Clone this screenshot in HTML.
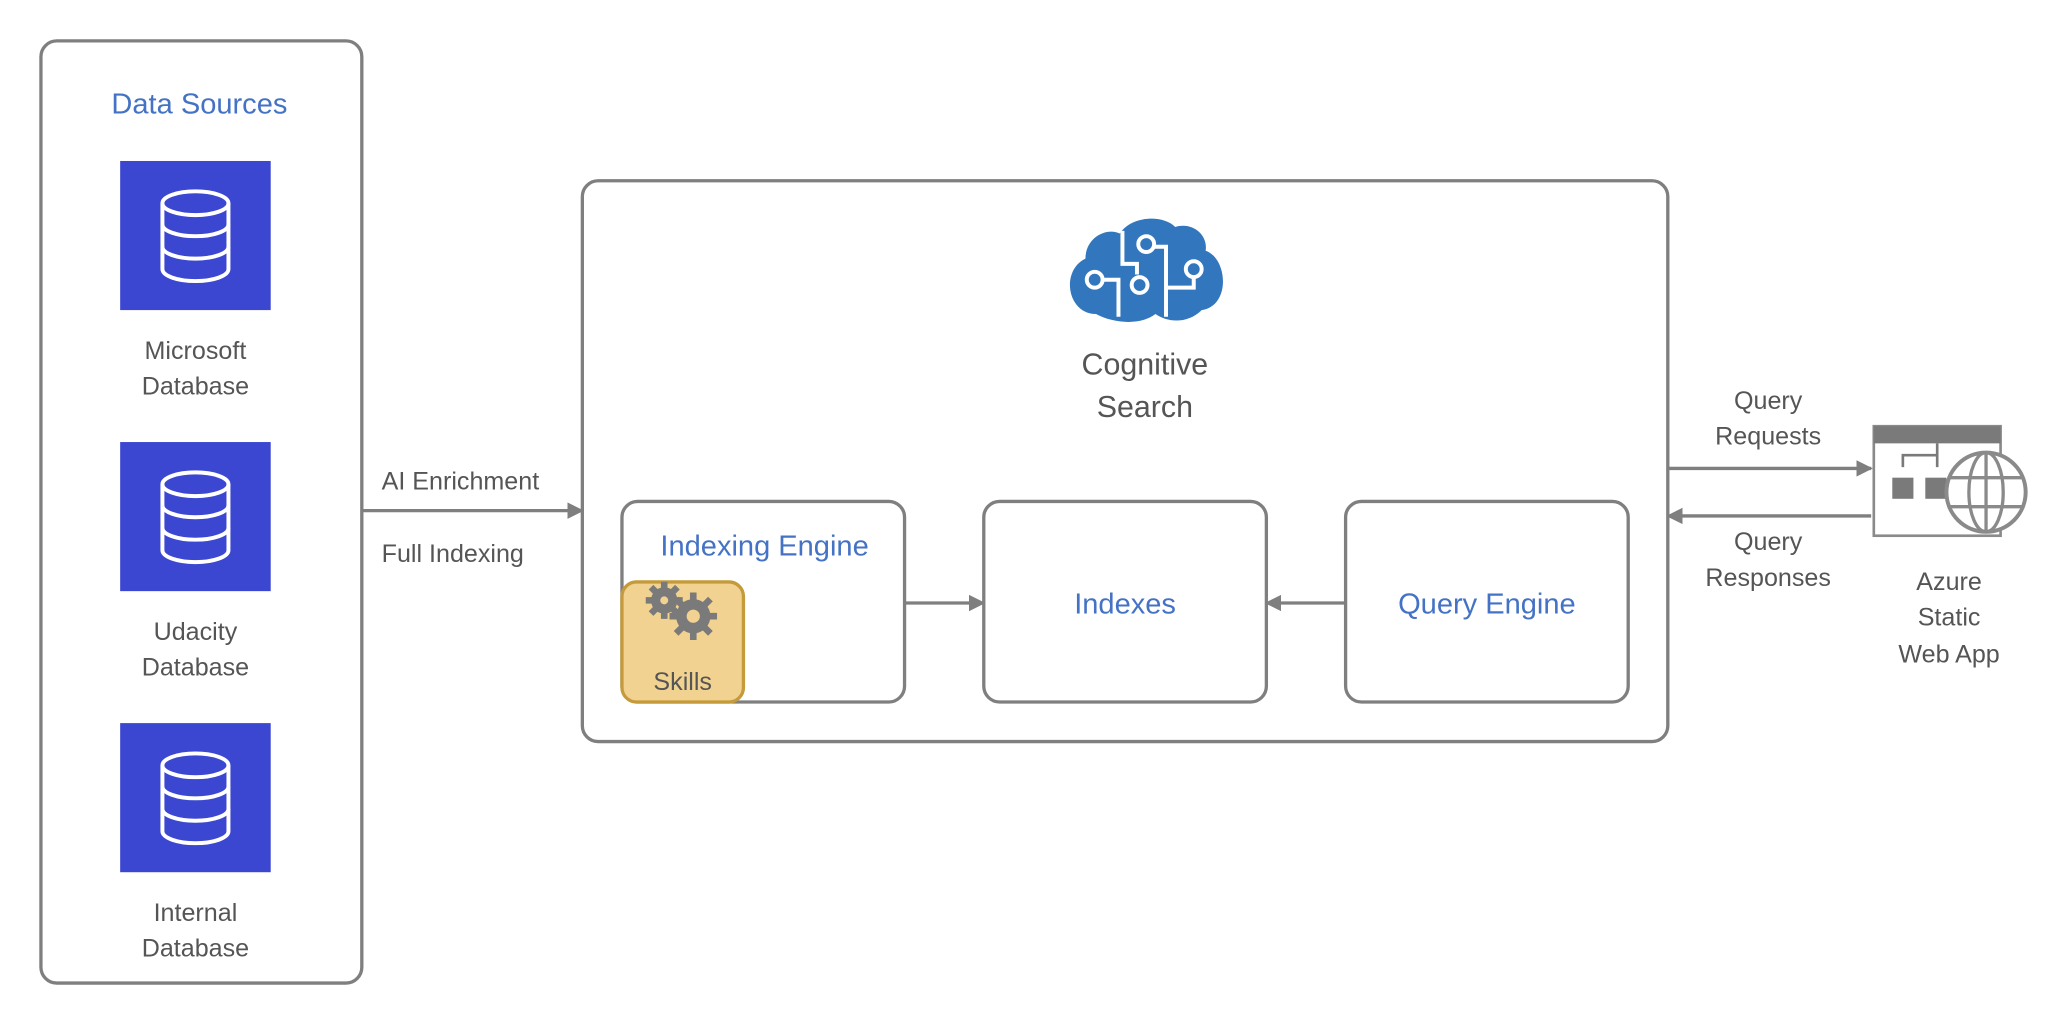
<!DOCTYPE html>
<html><head><meta charset="utf-8"><style>
html,body{margin:0;padding:0;background:#fff;width:2060px;height:1020px;overflow:hidden}
svg{display:block}
text{font-family:"Liberation Sans","DejaVu Sans",sans-serif}
</style></head><body>
<svg width="2060" height="1020" viewBox="0 0 1560 773" preserveAspectRatio="none" xmlns="http://www.w3.org/2000/svg">
<defs>
<marker id="ah" viewBox="0 0 10 10" refX="9" refY="5" markerWidth="5" markerHeight="5" orient="auto" markerUnits="strokeWidth"><path d="M0,0 L10,5 L0,10 z" fill="#7f7f7f"/></marker>
<g id="db"><rect width="114" height="113" fill="#3c47d1"/>
<g fill="none" stroke="#fff" stroke-width="3">
<ellipse cx="57" cy="32" rx="25" ry="9"/>
<path d="M32,32 V82 A25,9 0 0 0 82,82 V32"/>
<path d="M32,48 A25,9 0 0 0 82,48"/>
<path d="M32,65 A25,9 0 0 0 82,65"/>
</g></g>
</defs>
<g fill="none" stroke="#7f7f7f" stroke-width="2.5">
<rect x="31" y="31" width="243" height="714" rx="12"/>
<rect x="441" y="137" width="822" height="425" rx="12"/>
<rect x="471" y="380" width="214" height="152" rx="12"/>
<rect x="745" y="380" width="214" height="152" rx="12"/>
<rect x="1019" y="380" width="214" height="152" rx="12"/>
</g>
<rect x="471" y="441" width="92" height="91" rx="11" fill="#f2d290" stroke="#c59a3a" stroke-width="2.5"/>
<g fill="#7a7a7a">
<circle cx="503" cy="455" r="10"/><circle cx="525" cy="467" r="13"/>
<g stroke="#7a7a7a" stroke-width="5">
<path d="M503,441 V469 M489,455 H517 M493,445 L513,465 M513,445 L493,465"/>
<path d="M525,449 V485 M507,467 H543 M512,454 L538,480 M538,454 L512,480"/>
</g>
<circle cx="503" cy="455" r="3" fill="#f2d290"/><circle cx="525" cy="467" r="5" fill="#f2d290"/>
</g>
<g fill="none" stroke="#7f7f7f" stroke-width="2.5" marker-end="url(#ah)">
<line x1="274" y1="387" x2="441" y2="387"/>
<line x1="685" y1="457" x2="745" y2="457"/>
<line x1="1019" y1="457" x2="959" y2="457"/>
<line x1="1263" y1="355" x2="1417" y2="355"/>
<line x1="1417" y1="391" x2="1263" y2="391"/>
</g>
<use href="#db" x="91" y="122"/>
<use href="#db" x="91" y="335"/>
<use href="#db" x="91" y="548"/>
<!-- cloud -->
<g>
<path d="M830,238 C808,238 803,205 822,196 C822,180 838,172 848,177 C856,164 880,162 890,172 C903,168 915,178 913,190 C930,196 932,232 910,235 C900,245 885,245 875,238 C865,246 845,246 830,238 Z" fill="#3277be"/>
<g fill="none" stroke="#fff" stroke-width="3">
<path d="M850,175 V200 H861 V208"/><circle cx="863" cy="216" r="6"/>
<circle cx="829" cy="212" r="6"/><path d="M835,212 H847 V240"/>
<circle cx="868" cy="185" r="6"/><path d="M874,187 H883 V240"/>
<circle cx="904" cy="204" r="6"/><path d="M904,210 V218 H883"/>
</g></g>
<!-- web app icon -->
<g>
<rect x="1419" y="323" width="96" height="83" fill="#fff" stroke="#8a8a8a" stroke-width="2"/>
<rect x="1419" y="323" width="96" height="13" fill="#7a7a7a"/>
<path d="M1467,336 V345 M1441,354 V345 H1467 M1441,345 H1467 V354" stroke="#7a7a7a" stroke-width="2" fill="none"/>
<rect x="1433" y="362" width="16" height="16" fill="#7a7a7a"/><rect x="1458" y="362" width="16" height="16" fill="#7a7a7a"/>
<circle cx="1504" cy="373" r="30" fill="#fff" stroke="#8a8a8a" stroke-width="3"/>
<g fill="none" stroke="#8a8a8a" stroke-width="2.5">
<ellipse cx="1504" cy="373" rx="13" ry="30"/><line x1="1504" y1="343" x2="1504" y2="403"/>
<line x1="1475" y1="362" x2="1533" y2="362"/><line x1="1475" y1="384" x2="1533" y2="384"/>
</g></g>
<g fill="#4472c4" text-anchor="middle" font-size="22">
<text x="151" y="86">Data Sources</text>
<text x="579" y="421">Indexing Engine</text>
<text x="852" y="465">Indexes</text>
<text x="1126" y="465">Query Engine</text>
</g>
<g fill="#555" text-anchor="middle" font-size="19">
<text x="148" y="272">Microsoft</text><text x="148" y="299">Database</text>
<text x="148" y="485">Udacity</text><text x="148" y="512">Database</text>
<text x="148" y="698">Internal</text><text x="148" y="725">Database</text>
<text x="867" y="284" font-size="23">Cognitive</text><text x="867" y="316" font-size="23">Search</text>
<text x="517" y="523">Skills</text>
<text x="1339" y="310">Query</text><text x="1339" y="337">Requests</text>
<text x="1339" y="417">Query</text><text x="1339" y="444">Responses</text>
<text x="1476" y="447">Azure</text><text x="1476" y="474">Static</text><text x="1476" y="502">Web App</text>
</g>
<g fill="#555" font-size="19">
<text x="289" y="371">AI Enrichment</text>
<text x="289" y="426">Full Indexing</text>
</g>
</svg>
</body></html>
